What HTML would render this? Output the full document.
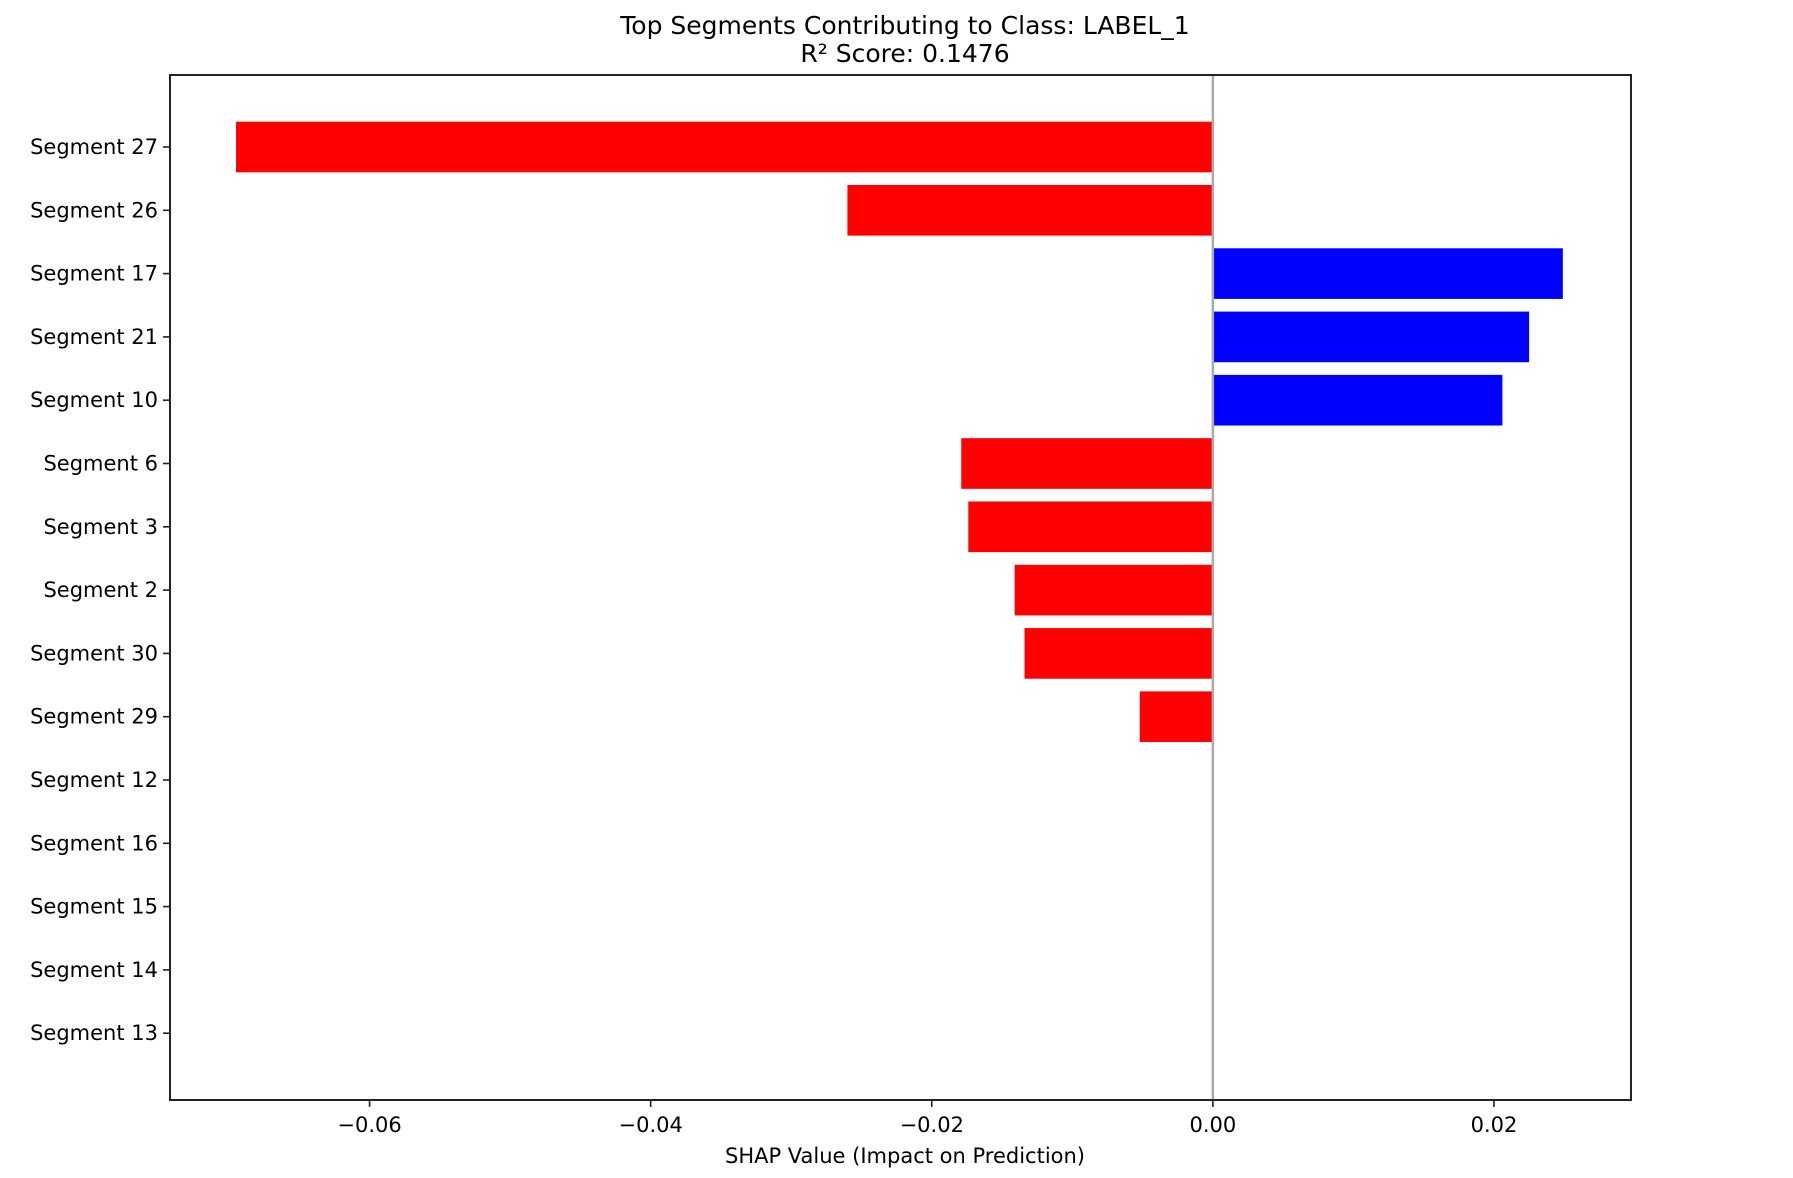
<!DOCTYPE html>
<html><head><meta charset="utf-8"><style>
html,body{margin:0;padding:0;background:#fff;}
svg{display:block;font-family:"DejaVu Sans","Liberation Sans",sans-serif;}
</style></head><body>
<svg id="chart" width="1793" height="1178" viewBox="0 0 1793 1178">
<text x="905" y="34" font-size="25" text-anchor="middle">Top Segments Contributing to Class: LABEL_1</text>
<text x="905" y="62" font-size="25" text-anchor="middle">R² Score: 0.1476</text>
<g id="bars"></g>
<line id="zero" y1="75" y2="1100" stroke="#aaaaaa" stroke-width="2.5"/>
<rect x="170" y="75" width="1461" height="1025" fill="none" stroke="#222" stroke-width="2"/>
<g id="xticks"></g>
<g id="yticks"></g>
<text x="905" y="1163" font-size="21" text-anchor="middle">SHAP Value (Impact on Prediction)</text>
</svg>
<script>
const categories = ["Segment 27","Segment 26","Segment 17","Segment 21","Segment 10","Segment 6","Segment 3","Segment 2","Segment 30","Segment 29","Segment 12","Segment 16","Segment 15","Segment 14","Segment 13"];
const values = [-0.0695,-0.0260,0.0249,0.0225,0.0206,-0.0179,-0.0174,-0.0141,-0.0134,-0.0052,0,0,0,0,0];
const xTicks = [-0.06,-0.04,-0.02,0.00,0.02];
const xTickLabels = ["−0.06","−0.04","−0.02","0.00","0.02"];
const NS="http://www.w3.org/2000/svg";
const L=170,R=1631,T=75,B=1100,xmin=-0.0742,xmax=0.02975;
const x=v=>L+(v-xmin)/(xmax-xmin)*(R-L);
const n=categories.length, step=63.3, y0=147;
const y=i=>y0+i*step;
const bars=document.getElementById('bars');
values.forEach((v,i)=>{
  if(v===0) return;
  const r=document.createElementNS(NS,'rect');
  r.setAttribute('x',Math.min(x(0),x(v)));
  r.setAttribute('width',Math.abs(x(v)-x(0)));
  r.setAttribute('y',y(i)-step*0.4);
  r.setAttribute('height',step*0.8);
  r.setAttribute('fill',v<0?'#ff0000':'#0000ff');
  
  
  bars.appendChild(r);
});
const z=document.getElementById('zero');
z.setAttribute('x1',x(0));z.setAttribute('x2',x(0));
const xt=document.getElementById('xticks');
xTicks.forEach((t,i)=>{
  const l=document.createElementNS(NS,'line');
  l.setAttribute('x1',x(t));l.setAttribute('x2',x(t));l.setAttribute('y1',B);l.setAttribute('y2',B+7);
  l.setAttribute('stroke','#222');l.setAttribute('stroke-width','1.6');
  
  
  xt.appendChild(l);
  const s=document.createElementNS(NS,'text');
  s.setAttribute('x',x(t));s.setAttribute('y',B+32);s.setAttribute('font-size','21');s.setAttribute('text-anchor','middle');
  s.textContent=xTickLabels[i];
  
  
  xt.appendChild(s);
});
const yt=document.getElementById('yticks');
categories.forEach((c,i)=>{
  const l=document.createElementNS(NS,'line');
  l.setAttribute('x1',L-7);l.setAttribute('x2',L);l.setAttribute('y1',y(i));l.setAttribute('y2',y(i));
  l.setAttribute('stroke','#222');l.setAttribute('stroke-width','1.6');
  
  
  yt.appendChild(l);
  const s=document.createElementNS(NS,'text');
  s.setAttribute('x',L-12);s.setAttribute('y',y(i)+7);s.setAttribute('font-size','21');s.setAttribute('text-anchor','end');
  s.textContent=c;
  
  
  yt.appendChild(s);
});
</script>
</body></html>
